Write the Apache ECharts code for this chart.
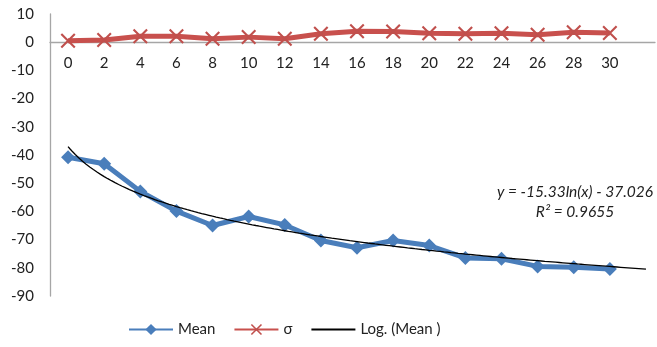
<!DOCTYPE html>
<html>
<head>
<meta charset="utf-8">
<script src="https://cdn.jsdelivr.net/npm/echarts@6/dist/echarts.min.js"></script>
<style>html,body{margin:0;padding:0;background:#fff;}#c{width:657px;height:347px;}</style>
</head>
<body>
<div id="c"></div>
<script>
var categories = [0, 2, 4, 6, 8, 10, 12, 14, 16, 18, 20, 22, 24, 26, 28, 30];
var meanValues = [-40.8, -43.1, -52.9, -59.9, -65.0, -61.8, -64.8, -70.3, -72.9, -70.3, -72.1, -76.5, -76.8, -79.5, -79.8, -80.4];
var sigmaValues = [0.5, 0.8, 2.1, 2.1, 1.2, 1.8, 1.2, 3.0, 3.9, 3.8, 3.2, 3.0, 3.2, 2.6, 3.5, 3.3];
var yTicks = [-90, -80, -70, -60, -50, -40, -30, -20, -10, 0, 10];
// Trendline as printed on the chart: y = a*ln(x) + b, x = point index (1..n), forecast 1 period
var trendA = -15.33;
var trendB = -37.026;
var trendR2 = 0.9655;
var trendForward = 1;

var FONT = 'Lato, "Open Sans", sans-serif';
var Y_MIN = -90, Y_MAX = 10;
var GRID_TOP = 14, GRID_BOTTOM = 51, H = 347;
var meanData = categories.map(function (c, i) { return [c, meanValues[i]]; });
var sigmaData = categories.map(function (c, i) { return [c, sigmaValues[i]]; });
var step = categories[1] - categories[0];
var trendData = [];
var nMax = categories.length + trendForward;
for (var k = 0; k <= (nMax - 1) * 20; k++) {
  var n = 1 + k / 20;
  trendData.push([categories[0] + (n - 1) * step, trendA * Math.log(n) + trendB]);
}
var eq = 'y = ' + trendA + 'ln(x) - ' + Math.abs(trendB);
var r2 = 'R² = ' + trendR2;

// place the category axis on the zero line
var gridH = H - GRID_TOP - GRID_BOTTOM;
var zeroOffset = -gridH * (0 - Y_MIN) / (Y_MAX - Y_MIN);

var xSymbol = 'path://M0,1 L1,0 L10,9 L9,10 Z M9,0 L10,1 L1,10 L0,9 Z';

var chart = echarts.init(document.getElementById('c'));
chart.setOption({
  animation: false,
  backgroundColor: '#ffffff',
  textStyle: { fontFamily: FONT },
  grid: { left: 50, right: 2, top: GRID_TOP, bottom: GRID_BOTTOM, containLabel: false },
  xAxis: {
    type: 'value',
    min: -1,
    max: 32.5,
    position: 'bottom',
    offset: zeroOffset,
    axisLine: { onZero: false, lineStyle: { color: '#a6a6a6', width: 1.3 } },
    axisTick: { show: false },
    splitLine: { show: false },
    axisLabel: {
      customValues: categories,
      color: '#222', fontSize: 15, fontFamily: FONT, margin: 13
    }
  },
  yAxis: {
    type: 'value',
    min: Y_MIN, max: Y_MAX, interval: 10,
    axisLine: { show: true, onZero: false, lineStyle: { color: '#a6a6a6', width: 1.3 } },
    axisTick: { show: false },
    splitLine: { show: false },
    axisLabel: {
      customValues: yTicks,
      color: '#222', fontSize: 15, fontFamily: FONT, margin: 16
    }
  },
  legend: {
    top: 322,
    left: 128,
    padding: 0,
    itemWidth: 44,
    itemHeight: 14,
    itemGap: 18,
    textStyle: { fontSize: 15, color: '#222', fontFamily: FONT },
    data: [
      { name: 'Mean' },
      { name: 'σ' },
      { name: 'Log. (Mean )', itemStyle: { color: 'rgba(0,0,0,0)', borderWidth: 0, opacity: 0 } }
    ]
  },
  series: [
    {
      name: 'Mean',
      type: 'line',
      data: meanData,
      color: '#4a7ebb',
      lineStyle: { width: 5, color: '#4a7ebb' },
      itemStyle: { color: '#4a7ebb' },
      symbol: 'diamond',
      symbolSize: 14,
      z: 2
    },
    {
      name: 'σ',
      type: 'line',
      data: sigmaData,
      color: '#c0504d',
      lineStyle: { width: 5, color: '#c8504d' },
      itemStyle: { color: '#c0504d' },
      symbol: xSymbol,
      symbolSize: 15,
      z: 2
    },
    {
      name: 'Log. (Mean )',
      type: 'line',
      data: trendData,
      color: '#000',
      lineStyle: { width: 1.3, color: '#000' },
      symbol: 'none',
      z: 3
    }
  ],
  graphic: [
    {
      type: 'text', x: 575, y: 184,
      style: { text: eq, font: 'italic 15.5px ' + FONT, fill: '#222', textAlign: 'center' }
    },
    {
      type: 'text', x: 575, y: 204,
      style: { text: r2, font: 'italic 15.5px ' + FONT, fill: '#222', textAlign: 'center' }
    }
  ]
});
</script>
</body>
</html>
